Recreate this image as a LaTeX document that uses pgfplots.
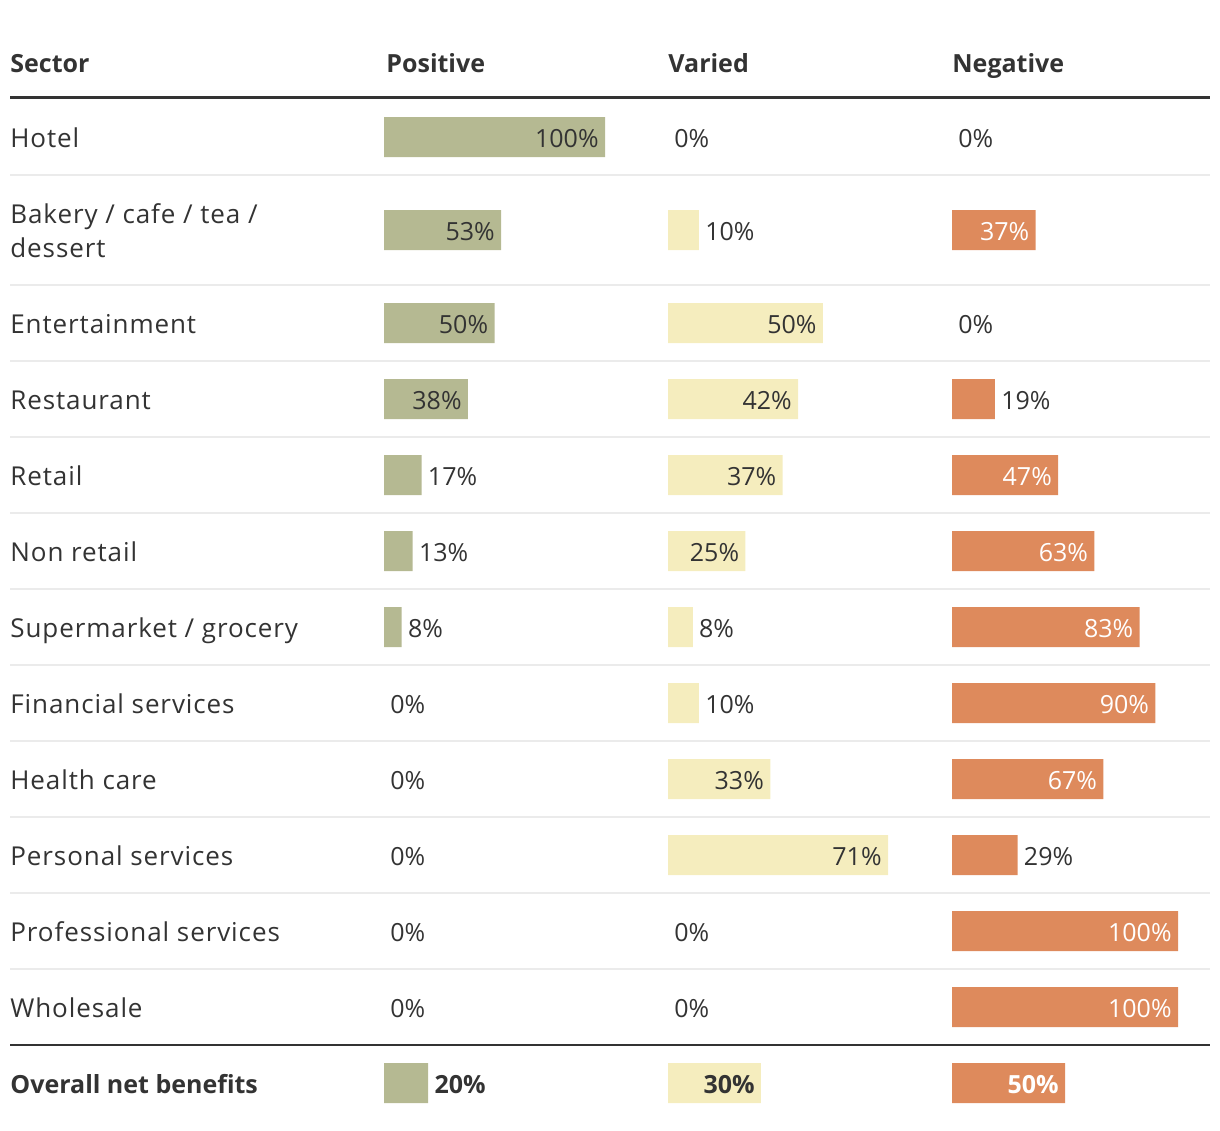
\documentclass[border=0pt]{standalone}
\usepackage{pgfplots}
\pgfplotsset{compat=1.18}
\usepackage{pgfplotstable}
\usepackage{fontspec}
\setmainfont{Open Sans}
\newfontfamily\rowfont{Open Sans}[LetterSpace=3.5]
\definecolor{txt}{HTML}{333333}
\definecolor{pos}{HTML}{B5B992}
\definecolor{var}{HTML}{F5EDBE}
\definecolor{neg}{HTML}{DE8A5C}
\definecolor{sep}{HTML}{EBEBEB}

\pgfplotsset{
  col/.style={hide axis, scale only axis, height=565pt, ymin=0, ymax=1130,
    y dir=reverse, xmin=0, clip=false, anchor=north west,
    /pgf/number format/assume math mode=true},
  bars/.style={xbar, bar shift=0pt, bar width=20pt, draw=none, fill=#1,
    x filter/.expression={x==0 ? nan : x}, unbounded coords=discard},
  labbase/.style={xbar, bar shift=0pt, bar width=0pt, draw=none, fill=none,
    point meta=x,
    nodes near coords={\pgfmathprintnumber{\pgfplotspointmeta}\%}},
  labin/.style={labbase, every node near coord/.append style={anchor=base east,
    xshift=-3pt, yshift=-5pt, inner sep=0pt, text=#1,
    font=\fontsize{12.5}{15}\selectfont}},
  labout/.style={labbase, every node near coord/.append style={anchor=base west,
    xshift=3pt, yshift=-5pt, inner sep=0pt, text=#1,
    font=\fontsize{12.5}{15}\selectfont}},
  labinb/.style={labbase, every node near coord/.append style={anchor=base east,
    xshift=-3pt, yshift=-5pt, inner sep=0pt, text=#1,
    font=\fontsize{12.5}{15}\selectfont\bfseries}},
  laboutb/.style={labbase, every node near coord/.append style={anchor=base west,
    xshift=3pt, yshift=-5pt, inner sep=0pt, text=#1,
    font=\fontsize{12.5}{15}\selectfont\bfseries}},
}

% row centre (px from top) and share in percent
\pgfplotstableread{
y v
137 100
230 53
323 50
399 38
475 17
551 13
627 8
703 0
779 0
855 0
931 0
1007 0
1083 20
}\postab
\pgfplotstableread{
y v
137 0
230 10
323 50
399 42
475 37
551 25
627 8
703 10
779 33
855 71
931 0
1007 0
1083 30
}\vartab
\pgfplotstableread{
y v
137 0
230 37
323 0
399 19
475 47
551 63
627 83
703 90
779 67
855 29
931 100
1007 100
1083 50
}\negtab

\begin{document}
\begin{tikzpicture}
% Positive
\begin{axis}[col, at={(192pt,0pt)}, width=110.5pt, xmax=100]
\addplot[bars=pos] table[x=v,y=y]{\postab};
\addplot[labin=txt] coordinates {(100,137) (53,230) (50,323) (38,399)};
\addplot[labout=txt] coordinates {(17,475) (13,551) (8,627) (0,703) (0,779) (0,855) (0,931) (0,1007)};
\addplot[laboutb=txt] coordinates {(20,1083)};
\end{axis}
% Varied
\begin{axis}[col, at={(334pt,0pt)}, width=110pt, xmax=71]
\addplot[bars=var] table[x=v,y=y]{\vartab};
\addplot[labin=txt] coordinates {(50,323) (42,399) (37,475) (25,551) (33,779) (71,855)};
\addplot[labout=txt] coordinates {(0,137) (10,230) (8,627) (10,703) (0,931) (0,1007)};
\addplot[labinb=txt] coordinates {(30,1083)};
\end{axis}
% Negative
\begin{axis}[col, at={(476pt,0pt)}, width=113pt, xmax=100]
\addplot[bars=neg] table[x=v,y=y]{\negtab};
\addplot[labin=white] coordinates {(37,230) (47,475) (63,551) (83,627) (90,703) (67,779) (100,931) (100,1007)};
\addplot[labout=txt] coordinates {(0,137) (0,323) (19,399) (29,855)};
\addplot[labinb=white] coordinates {(50,1083)};
\end{axis}

\begin{scope}[x=0.5pt, y=-0.5pt]
\path (0,0) rectangle (1220,1130);
\begin{scope}[every node/.style={inner sep=0pt, text=txt, font=\rowfont\fontsize{13}{15}\selectfont}]
\node[anchor=base west, font=\fontsize{12.5}{15}\selectfont\bfseries] at (10,72.5) {Sector};
\node[anchor=base west, font=\fontsize{12.5}{15}\selectfont\bfseries] at (386,72.5) {Positive};
\node[anchor=base west, font=\fontsize{12.5}{15}\selectfont\bfseries] at (668,72.5) {Varied};
\node[anchor=base west, font=\fontsize{12.5}{15}\selectfont\bfseries] at (952,72.5) {Negative};
\node[anchor=base west] at (10,147) {Hotel};
\node[anchor=base west] at (10,223) {Bakery / cafe / tea /};
\node[anchor=base west] at (10,257) {dessert};
\node[anchor=base west] at (10,333) {Entertainment};
\node[anchor=base west] at (10,409) {Restaurant};
\node[anchor=base west] at (10,485) {Retail};
\node[anchor=base west] at (10,561) {Non retail};
\node[anchor=base west] at (10,637) {Supermarket / grocery};
\node[anchor=base west] at (10,713) {Financial services};
\node[anchor=base west] at (10,789) {Health care};
\node[anchor=base west] at (10,865) {Personal services};
\node[anchor=base west] at (10,941) {Professional services};
\node[anchor=base west] at (10,1017) {Wholesale};
\node[anchor=base west, font=\fontsize{12.5}{15}\selectfont\bfseries] at (10,1093) {Overall net benefits};
\end{scope}
\draw[txt, line width=1.5pt] (10,97.5) -- (1210,97.5);
\foreach \yy in {175,285,361,437,513,589,665,741,817,893,969}
  \draw[sep, line width=0.75pt] (10,\yy) -- (1210,\yy);
\draw[txt, line width=1pt] (10,1045) -- (1210,1045);
\end{scope}
\end{tikzpicture}
\end{document}
